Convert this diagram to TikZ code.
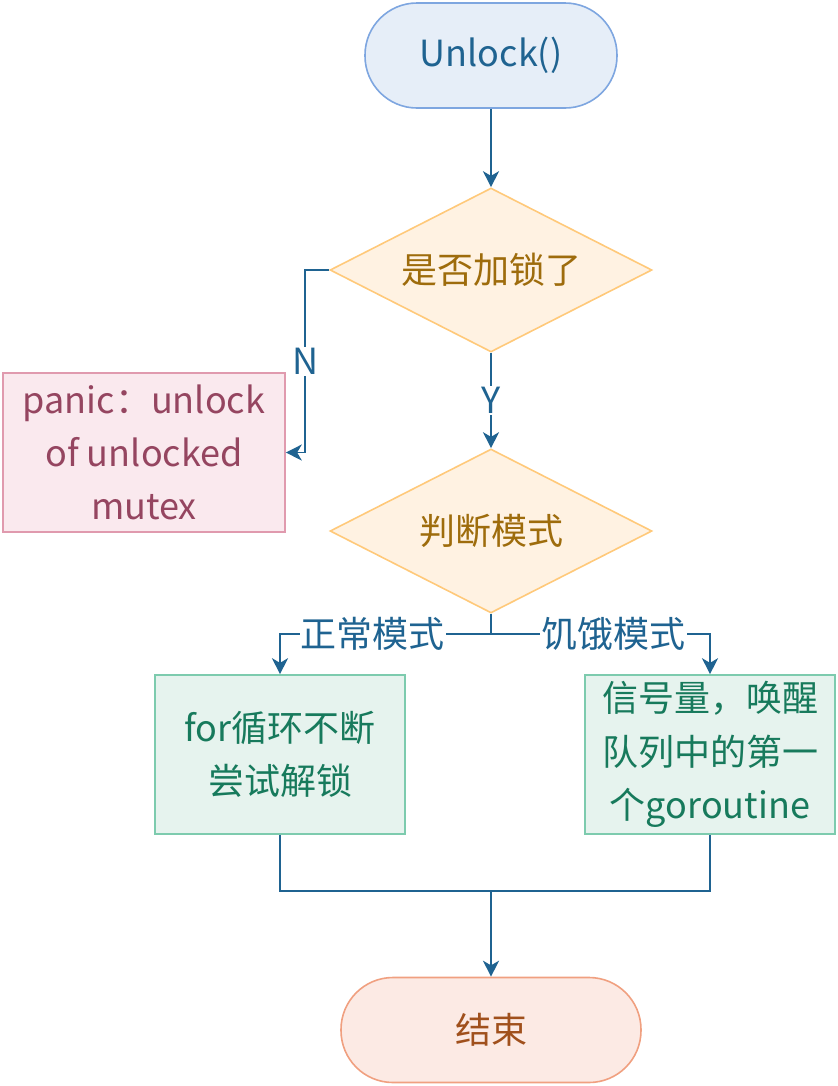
\documentclass[tikz,border=0pt]{standalone}
\usepackage{fontspec}
\setmainfont{Noto Sans CJK SC}
\usetikzlibrary{shapes, shapes.geometric, arrows.meta, calc, positioning}

\definecolor{lineblue}{HTML}{1F6391}
\definecolor{startfill}{HTML}{E6EEF8}
\definecolor{startdraw}{HTML}{7EA6E0}
\definecolor{askfill}{HTML}{FFF2E2}
\definecolor{askdraw}{HTML}{FFC97A}
\definecolor{asktext}{HTML}{9E6C0C}
\definecolor{panicfill}{HTML}{FAE9EE}
\definecolor{panicdraw}{HTML}{E09AAE}
\definecolor{panictext}{HTML}{954560}
\definecolor{modefill}{HTML}{E6F3EE}
\definecolor{modedraw}{HTML}{7DCBAE}
\definecolor{modetext}{HTML}{177A5C}
\definecolor{endfill}{HTML}{FCEAE4}
\definecolor{enddraw}{HTML}{F0A080}
\definecolor{endtext}{HTML}{A0501C}

\begin{document}
\begin{tikzpicture}[
  x=0.75pt, y=-0.75pt,
  every node/.style={font=\fontsize{27}{40}\selectfont, align=center, line width=1.2pt},
  terminal/.style={rectangle, rounded corners=39pt, draw, minimum width=189pt, minimum height=78.75pt},
  ask/.style={diamond, aspect=2, draw=askdraw, fill=askfill, text=asktext, inner sep=0pt, minimum width=241.5pt, minimum height=123pt},
  box/.style={rectangle, draw, minimum height=119.25pt, inner sep=0pt},
  arr/.style={draw=lineblue, line width=1.2pt, -{Stealth[length=12pt, width=12pt, inset=3.5pt]}},
  conn/.style={draw=lineblue, line width=1.2pt},
  lab/.style={fill=white, text=lineblue, inner sep=1pt}]

  \useasboundingbox (0,0) rectangle (838,1086);

  % nodes
  \node[terminal, draw=startdraw, fill=startfill, text=lineblue] (start) at (491,55.5) {Unlock()};
  \node[ask] (locked) at (491,270) {是否加锁了};
  \node[box, draw=panicdraw, fill=panicfill, text=panictext, minimum width=211.5pt] (panic) at (144,452.5) {panic：unlock\\of unlocked\\mutex};
  \node[ask] (mode) at (491,531) {判断模式};
  \node[box, draw=modedraw, fill=modefill, text=modetext, minimum width=187.5pt] (normal) at (280,754.5) {for循环不断\\尝试解锁};
  \node[box, draw=modedraw, fill=modefill, text=modetext, minimum width=187.5pt] (starve) at (710,754.5) {信号量，唤醒\\队列中的第一\\个goroutine};
  \node[terminal, draw=enddraw, fill=endfill, text=endtext, minimum width=225pt] (finish) at (491,1030) {结束};

  % connectors
  \draw[arr] (start) -- (locked);
  \draw[arr] (locked.west) -- ++(-24,0) |- node[lab, pos=0.25] {N} (panic.east);
  \draw[arr] (locked) -- node[lab] {Y} (mode);
  \draw[arr] (mode.south) -- ++(0,20) -| node[lab, pos=0.28] {正常模式} (normal.north);
  \draw[arr] (mode.south) -- ++(0,20) -| node[lab, pos=0.28] {饥饿模式} (starve.north);
  \coordinate (join) at ($(mode.south |- normal.south)+(0,56)$);
  \draw[conn] (normal.south) |- (join) -| (starve.south);
  \draw[arr] (join) -- (finish);
\end{tikzpicture}
\end{document}
